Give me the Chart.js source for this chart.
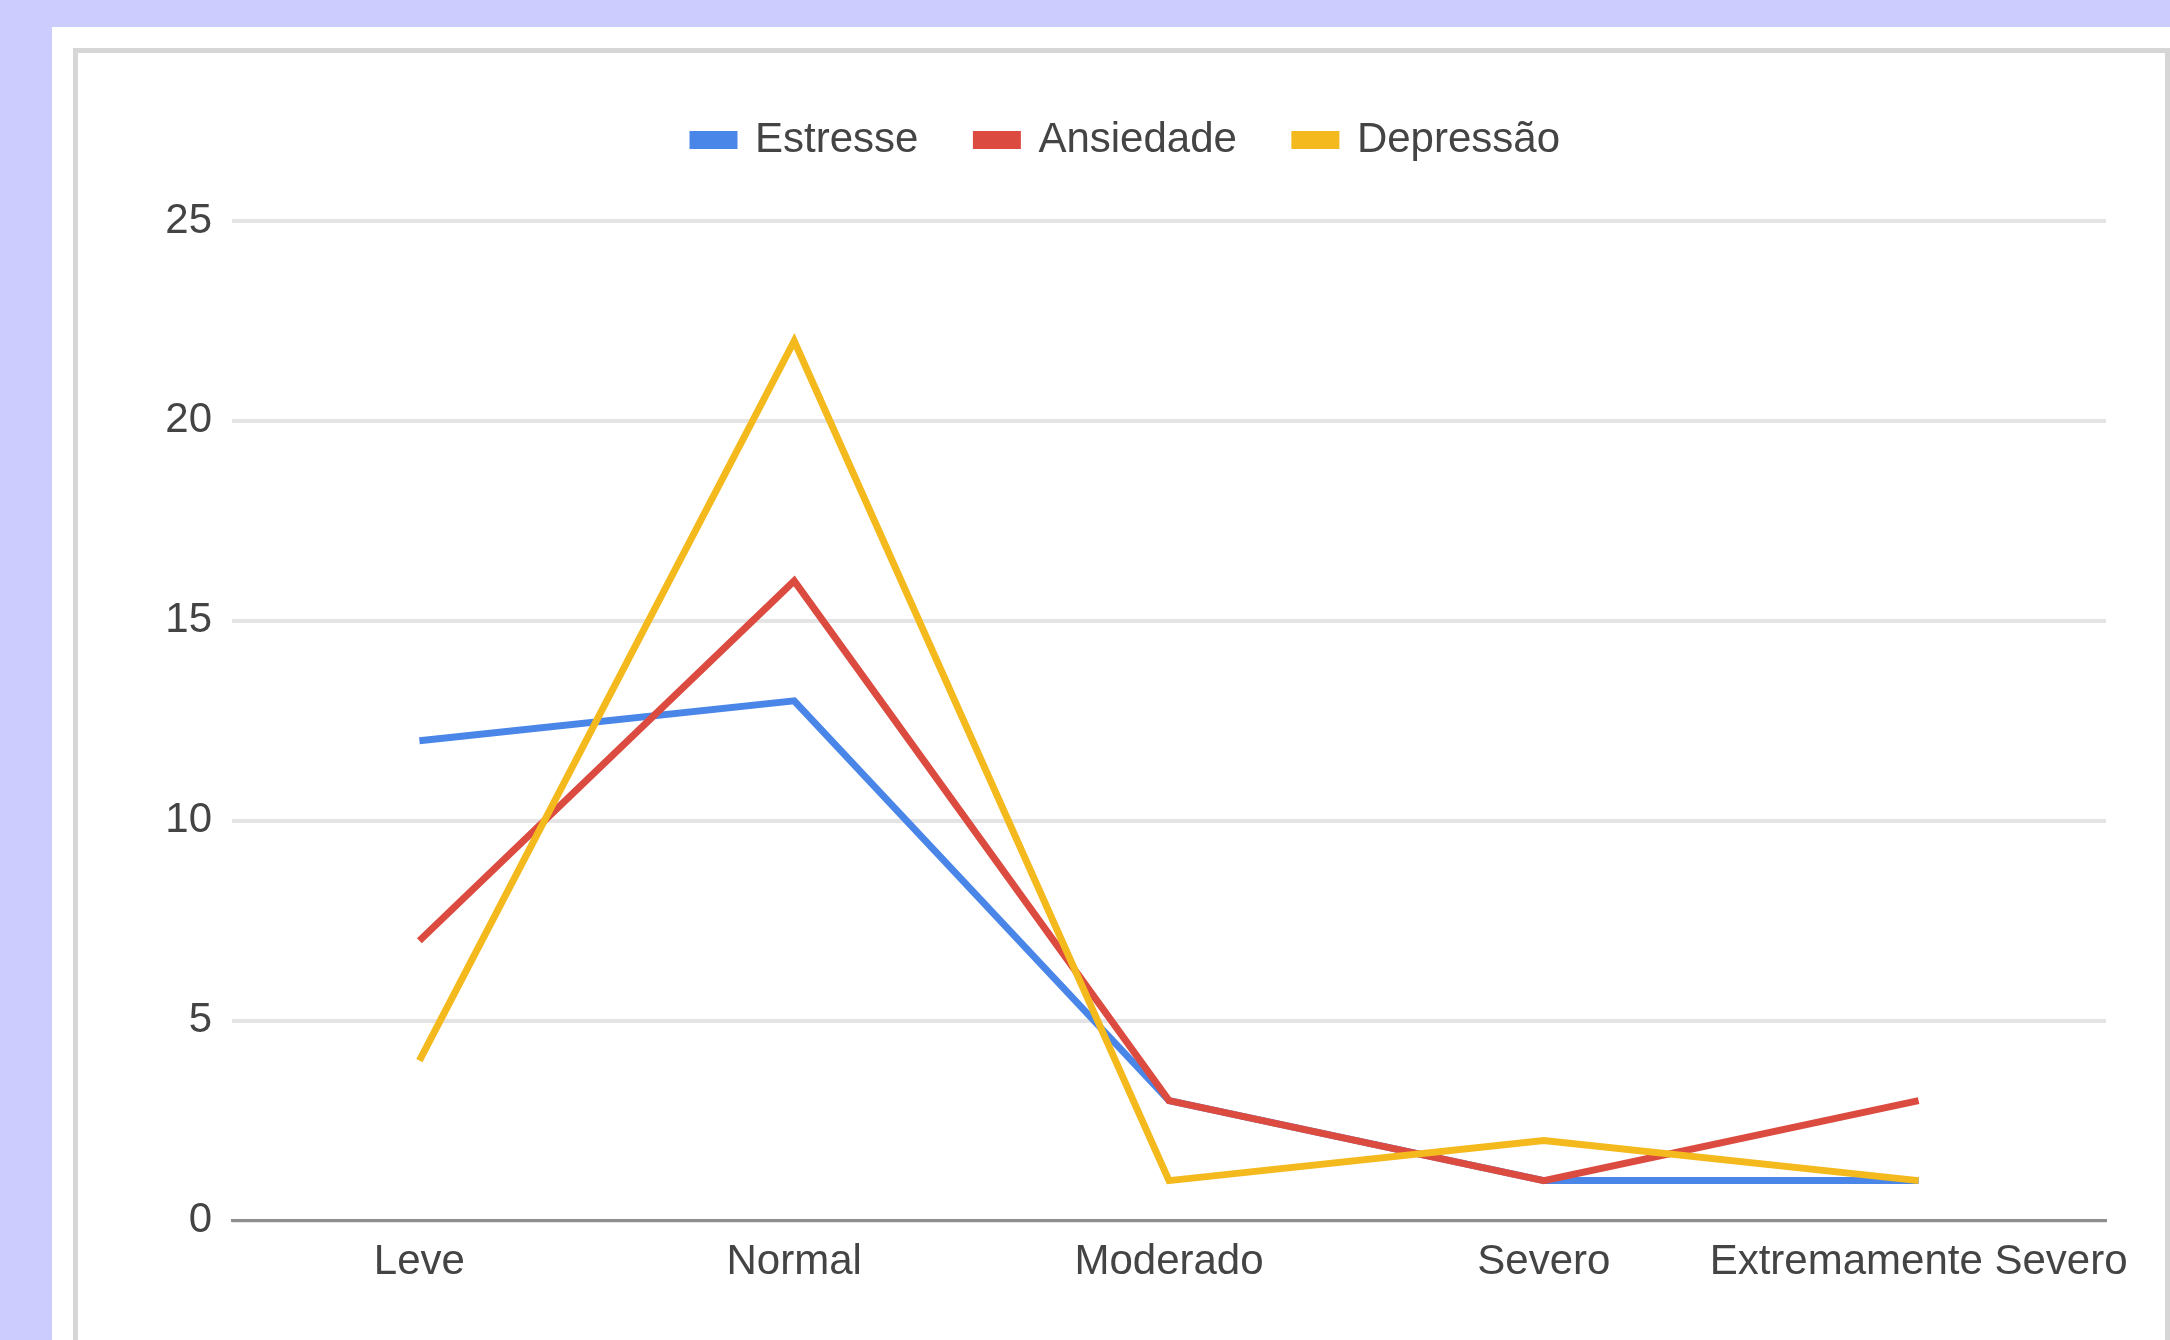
<!DOCTYPE html>
<html lang="pt">

<head>
    <meta charset="UTF-8">
    <title>Estresse, Ansiedade e Depressão</title>
    <script src="https://cdn.jsdelivr.net/npm/chart.js"></script>
    <style>
        html, body {
            margin: 0;
            padding: 0;
            width: 2170px;
            height: 1340px;
            overflow: hidden;
            background-color: #ccccff;
            font-family: 'Liberation Sans', Arial, sans-serif;
        }

        .panel {
            position: absolute;
            left: 52px;
            top: 27px;
            right: 0;
            bottom: 0;
            background-color: #ffffff;
        }

        .frame {
            position: absolute;
            left: 73px;
            top: 48px;
            width: 2087px;
            height: 1400px;
            border: 5px solid #d6d6d6;
        }

        #chart {
            position: absolute;
            left: 0;
            top: 0;
        }
    </style>
</head>

<body>
    <div class="panel"></div>
    <div class="frame"></div>
    <canvas id="chart" width="2170" height="1340"></canvas>

    <script>
        const categories = ['Leve', 'Normal', 'Moderado', 'Severo', 'Extremamente Severo'];
        const estresse = [12, 13, 3, 1, 1];
        const ansiedade = [7, 16, 3, 1, 3];
        const depressao = [4, 22, 1, 2, 1];
        const yTicks = [0, 5, 10, 15, 20, 25];

        const textColor = '#444444';
        const font = { family: "'Liberation Sans', Arial, sans-serif", size: 42 };

        // the legend sits well above the plot; stretch its box downwards
        const legendGap = {
            id: 'legendGap',
            beforeLayout(chart) {
                const legend = chart.legend;
                if (legend && !legend._gapPatched) {
                    const fit = legend.fit;
                    legend.fit = function () {
                        fit.call(this);
                        this.height += 50;
                    };
                    legend._gapPatched = true;
                }
            }
        };

        const makeSeries = (label, data, color, order) => ({
            label: label,
            data: data,
            borderColor: color,
            backgroundColor: color,
            borderWidth: 7,
            pointRadius: 0,
            pointHoverRadius: 0,
            tension: 0,
            fill: false,
            order: order
        });

        new Chart(document.getElementById('chart'), {
            type: 'line',
            data: {
                labels: categories,
                datasets: [
                    makeSeries('Estresse', estresse, '#4a86e8', 3),
                    makeSeries('Ansiedade', ansiedade, '#dc4b40', 2),
                    makeSeries('Depressão', depressao, '#f4b91c', 1)
                ]
            },
            plugins: [legendGap],
            options: {
                responsive: false,
                devicePixelRatio: 1,
                animation: false,
                layout: {
                    padding: { left: 147, right: 64, top: 61, bottom: 35 }
                },
                plugins: {
                    legend: {
                        position: 'top',
                        align: 'center',
                        labels: {
                            color: textColor,
                            font: font,
                            boxWidth: 41,
                            boxHeight: 11,
                            padding: 58,
                            sort: (a, b) => a.datasetIndex - b.datasetIndex
                        }
                    },
                    tooltip: { enabled: false }
                },
                scales: {
                    x: {
                        offset: true,
                        grid: { display: false, drawTicks: false },
                        border: { display: true, color: '#8e8e8e', width: 3 },
                        ticks: {
                            color: textColor,
                            font: font,
                            padding: 17,
                            maxRotation: 0,
                            autoSkip: false
                        }
                    },
                    y: {
                        min: yTicks[0],
                        max: yTicks[yTicks.length - 1],
                        afterFit: (scale) => { scale.width = 85; },
                        afterBuildTicks: (scale) => {
                            scale.ticks = yTicks.map(v => ({ value: v }));
                        },
                        grid: { color: '#e4e4e4', lineWidth: 4, drawTicks: false },
                        border: { display: false },
                        ticks: {
                            color: textColor,
                            font: font,
                            padding: 20
                        }
                    }
                }
            }
        });
    </script>
</body>

</html>
